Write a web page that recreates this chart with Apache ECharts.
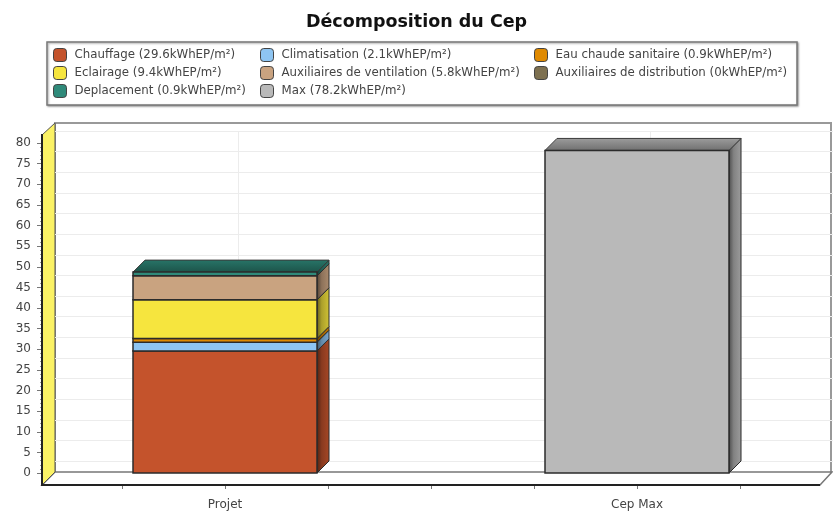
<!DOCTYPE html>
<html>
<head>
<meta charset="utf-8">
<style>html,body{margin:0;background:#fff}#chart{width:833px;height:519px}</style>
<script src="https://cdn.jsdelivr.net/npm/echarts@6/dist/echarts.min.js"></script>
</head>
<body>
<div id="chart"></div>
<script>
var categories = ['Projet', 'Cep Max'];
var xTicks = [-0.25, 0, 0.25, 0.5, 0.75, 1, 1.25];

// postes de consommation, empiles dans cet ordre
var legendNames = ['Chauffage (29.6kWhEP/m²)', 'Climatisation (2.1kWhEP/m²)', 'Eau chaude sanitaire (0.9kWhEP/m²)',
    'Eclairage (9.4kWhEP/m²)', 'Auxiliaires de ventilation (5.8kWhEP/m²)', 'Auxiliaires de distribution (0kWhEP/m²)',
    'Deplacement (0.9kWhEP/m²)', 'Max (78.2kWhEP/m²)'];
var values = [29.6, 2.1, 0.9, 9.4, 5.8, 0, 0.9, 78.2];
var catIndex = [0, 0, 0, 0, 0, 0, 0, 1];
var colors = ['#c4532c', '#8ec5f2', '#e08a00', '#f6e53e', '#c9a380', '#7d7050', '#2f8a7a', '#b9b9b9'];

var DEPTH = 12;       // decalage de la perspective
var BAR_W = 184;
var FONT = '"DejaVu Sans", sans-serif';

var myChart = echarts.init(document.getElementById('chart'));

function darker(c, k) {
    var p = echarts.color.parse(c);
    return 'rgb(' + [p[0], p[1], p[2]].map(function(v) { return Math.round(v * (1 - k)); }).join(',') + ')';
}

// un segment de barre "3D" : face, cote droit et dessus si c'est le haut de la pile
function segment(i, isTop) {
    return function(params, api) {
        var a = api.coord([api.value(0), api.value(1)]);
        var b = api.coord([api.value(0), api.value(2)]);
        var l = a[0] - BAR_W / 2, r = a[0] + BAR_W / 2;
        var c = colors[i];
        var kids = [];
        kids.push({
            type: 'polygon',
            shape: { points: [[r, a[1]], [r + DEPTH, a[1] - DEPTH], [r + DEPTH, b[1] - DEPTH], [r, b[1]]] },
            style: {
                fill: new echarts.graphic.LinearGradient(0, 0, 1, 0, [
                    { offset: 0, color: darker(c, 0.6) },
                    { offset: 0.4, color: darker(c, 0.3) },
                    { offset: 1, color: darker(c, 0.15) }
                ]),
                stroke: '#2b2b2b', lineWidth: 1
            }
        });
        if (isTop) {
            kids.push({
                type: 'polygon',
                shape: { points: [[l, b[1]], [l + DEPTH, b[1] - DEPTH], [r + DEPTH, b[1] - DEPTH], [r, b[1]]] },
                style: {
                    fill: new echarts.graphic.LinearGradient(0, 0, 0, 1, [
                        { offset: 0, color: darker(c, 0.15) },
                        { offset: 1, color: darker(c, 0.4) }
                    ]),
                    stroke: '#3a3a3a', lineWidth: 1
                }
            });
        }
        kids.push({
            type: 'rect',
            shape: { x: l, y: b[1], width: BAR_W, height: a[1] - b[1] },
            style: { fill: c, stroke: '#2b2b2b', lineWidth: 1.5 }
        });
        return { type: 'group', children: kids };
    };
}

var stackTop = [0, 0];
var series = legendNames.map(function(n, i) {
    var cat = catIndex[i];
    var start = stackTop[cat];
    stackTop[cat] += values[i];
    var lastOfStack = catIndex.lastIndexOf(cat) === i;
    return {
        name: n,
        type: 'custom',
        xAxisIndex: 0,
        yAxisIndex: 0,
        clip: false,
        z: 5 + i,
        itemStyle: { color: colors[i] },
        encode: { x: 0, y: 2 },
        data: values[i] > 0 ? [[cat, start, stackTop[cat]]] : [],
        renderItem: segment(i, lastOfStack)
    };
});

var legendCommon = {
    orient: 'vertical',
    top: 46,
    padding: 2,
    itemWidth: 13,
    itemHeight: 13,
    itemGap: 4,
    icon: 'roundRect',
    selectedMode: false,
    itemStyle: { borderColor: '#444', borderWidth: 1 },
    textStyle: { fontFamily: FONT, fontSize: 11.8, color: '#444', padding: [0, 0, 0, 3] }
};
function legendCol(x, from) {
    return Object.assign({}, legendCommon, {
        left: x,
        data: from.map(function(i) { return legendNames[i]; })
    });
}

var xMin = -183 / 412, xMax = 595 / 412;

var option = {
    animation: false,
    backgroundColor: '#fff',
    title: {
        text: 'Décomposition du Cep',
        left: 'center',
        top: 8,
        textStyle: { fontFamily: FONT, fontSize: 17.5, fontWeight: 'bold', color: '#111' }
    },
    legend: [
        legendCol(51, [0, 3, 6]),
        legendCol(258, [1, 4, 7]),
        legendCol(532, [2, 5])
    ],
    grid: [
        { left: 42, top: 143, width: 778, height: 330 },
        { left: 55, top: 131, width: 778, height: 330 }
    ],
    xAxis: [
        {
            type: 'value', gridIndex: 0, min: xMin, max: xMax, offset: 12,
            splitLine: { show: false },
            axisLine: { show: false, onZero: false },
            axisTick: { show: true, customValues: xTicks, length: 4, lineStyle: { color: '#777' } },
            axisLabel: {
                customValues: [0, 1], margin: 14, fontFamily: FONT, fontSize: 12, color: '#444',
                formatter: function(v) { return categories[v]; }
            }
        },
        {
            type: 'value', gridIndex: 1, min: xMin, max: xMax,
            axisLine: { show: false, onZero: false },
            axisLabel: { show: false },
            axisTick: { show: false, customValues: [0, 1] },
            splitLine: { show: true, lineStyle: { color: '#ececec' } }
        }
    ],
    yAxis: [
        {
            type: 'value', gridIndex: 0, min: 0, max: 80, interval: 5,
            axisLine: { show: false, onZero: false },
            axisTick: { show: true, length: 5, lineStyle: { color: '#777' } },
            minorTick: { show: true, splitNumber: 5, length: 2, lineStyle: { color: '#999' } },
            axisLabel: { margin: 11, fontFamily: FONT, fontSize: 12, color: '#444' },
            splitLine: { show: false }
        },
        {
            type: 'value', gridIndex: 1, min: 0, max: 80, interval: 5,
            axisLine: { show: false, onZero: false },
            axisTick: { show: false },
            axisLabel: { show: false },
            splitLine: { show: true, lineStyle: { color: '#ececec' } }
        }
    ],
    // cadre du graphique : murs, sol et boite de legende
    graphic: [
        { type: 'rect', zlevel: -1, shape: { x: 47, y: 42, width: 750, height: 63 },
          style: { fill: '#fff', stroke: '#777', lineWidth: 1.5, shadowColor: 'rgba(0,0,0,0.35)', shadowBlur: 2, shadowOffsetX: 1, shadowOffsetY: 1 } },
        { type: 'polyline', zlevel: -1, shape: { points: [[55, 472], [55, 123], [831, 123], [831, 472]] },
          style: { fill: null, stroke: '#999', lineWidth: 2 } },
        { type: 'polygon', zlevel: -1, shape: { points: [[55, 472], [832, 472], [820, 485], [42, 485]] },
          style: { fill: '#fff', stroke: '#777', lineWidth: 1.5 } },
        { type: 'polygon', zlevel: -1, shape: { points: [[42, 135], [55, 123], [55, 472], [42, 485]] },
          style: { fill: '#fbf265', stroke: '#555', lineWidth: 1 } },
        { type: 'polyline', z: 20, shape: { points: [[42, 134], [42, 485], [820, 485]] },
          style: { fill: null, stroke: '#222', lineWidth: 2 } }
    ],
    series: series
};

myChart.setOption(option);
</script>
</body>
</html>
